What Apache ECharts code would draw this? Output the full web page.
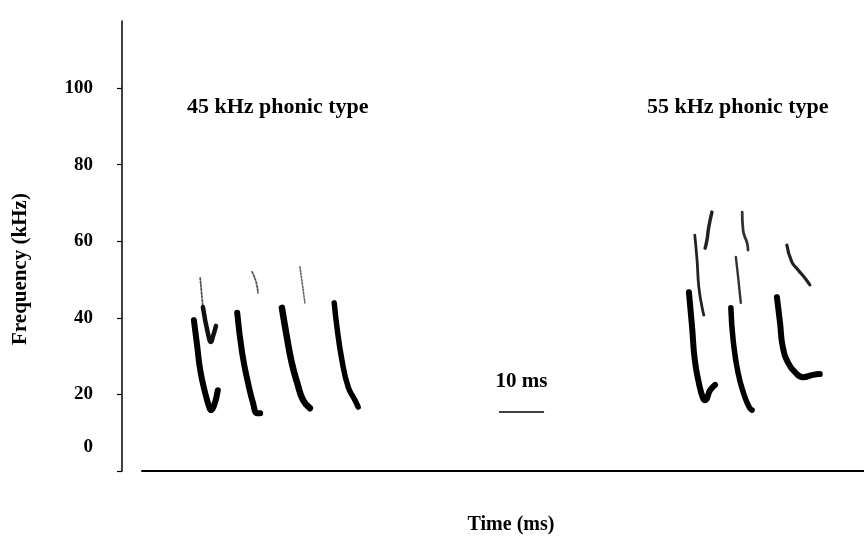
<!DOCTYPE html>
<html><head><meta charset="utf-8">
<script src="https://cdn.jsdelivr.net/npm/echarts@6/dist/echarts.min.js"></script>
<style>html,body{margin:0;padding:0;background:#fff}#c{width:864px;height:538px}</style>
</head><body><div id="c"></div>
<script>
// Tick labels (kHz)
const yTicks = [0, 20, 40, 60, 80, 100];
const groupTitles = ['45 kHz phonic type', '55 kHz phonic type'];
const scaleBarLabel = '10 ms';

// Pulse traces: [time ms, frequency kHz]
// 45 kHz phonic type
const p1Fund = [[11.5,39.4],[12.2,32.9],[12.9,26.4],[14.0,20.4],[14.9,16.7],[15.3,15.9],[16.0,17.2],[16.8,21.1]];
const p1HarmTop = [[12.9,50.4],[13.2,46.5],[13.5,42.8]];
const p1HarmLow = [[13.5,42.8],[14.6,36.0],[15.3,33.7],[15.7,35.0],[16.4,37.9]];
const p2Fund = [[21.1,41.3],[22.2,30.8],[23.5,23.0],[24.6,17.8],[25.5,15.1],[26.2,15.1]];
const p2Upper = [[24.4,52.0],[25.3,49.3],[25.7,46.5]];
const p3Fund = [[31.0,42.6],[32.1,35.0],[33.2,28.2],[34.4,23.0],[35.7,18.5],[37.2,16.4]];
const p3Upper = [[35.0,53.3],[35.5,49.1],[36.1,43.9]];
const p4Fund = [[42.6,43.9],[43.2,37.6],[44.3,29.0],[45.7,21.9],[47.2,18.5],[47.9,16.7]];
// 55 kHz phonic type
const pAFund = [[121.2,46.7],[121.9,37.6],[122.5,29.0],[123.4,23.0],[124.3,19.1],[124.8,18.5],[125.9,21.1],[127.0,22.5]];
const pAHarm = [[122.5,61.6],[123.0,55.1],[123.4,48.0],[124.1,42.8],[124.5,40.7]];
const pAThird = [[126.3,67.6],[125.6,63.7],[125.2,60.3],[124.8,58.2]];
const pBFund = [[130.5,42.6],[131.0,34.2],[132.1,25.6],[133.6,19.3],[134.7,16.4],[135.2,15.9]];
const pBHarm = [[131.6,55.9],[132.1,50.7],[132.7,43.9]];
const pBThird = [[133.0,67.6],[133.2,62.9],[134.1,59.5],[134.3,57.7]];
const pCFund = [[140.7,45.4],[141.4,38.6],[142.0,32.4],[143.2,28.2],[144.7,25.8],[146.5,24.5],[148.7,25.1],[150.2,25.3]];
const pCHarm = [[142.9,59.0],[144.0,54.6],[145.4,52.5],[146.9,50.4],[148.0,48.6]];
// 10 ms scale bar
const scaleBar = [[79.1,15.4],[89.1,15.4]];
const scaleBarLabelPos = [[84.1,23.3]];

const serif = '"Liberation Serif","Times New Roman",serif';
function trace(data, width, color, type) {
  return {type:'line', data, smooth:true, showSymbol:false, silent:true, xAxisIndex:0, yAxisIndex:0,
    lineStyle:{width, color, type: type||'solid', cap:'round', join:'round'}, z:3};
}
const series = [
  trace(p1Fund,6,'#000'), trace(p1HarmTop,1.8,'#555','dotted'), trace(p1HarmLow,4.5,'#111'),
  trace(p2Fund,6,'#000'), trace(p2Upper,1.8,'#555','dotted'),
  trace(p3Fund,6.5,'#000'), trace(p3Upper,1.6,'#666','dotted'),
  trace(p4Fund,5.5,'#000'),
  trace(pAFund,6,'#000'), trace(pAHarm,2.8,'#222'), trace(pAThird,3.5,'#222'),
  trace(pBFund,5.5,'#000'), trace(pBHarm,2.4,'#333'), trace(pBThird,2.8,'#333'),
  trace(pCFund,6,'#000'), trace(pCHarm,3.2,'#222'),
  {type:'line', data:scaleBar, showSymbol:false, silent:true, xAxisIndex:0, yAxisIndex:0, lineStyle:{width:1.5,color:'#000'}},
  {type:'scatter', data:scaleBarLabelPos, symbolSize:0, silent:true, xAxisIndex:0, yAxisIndex:0,
    itemStyle:{color:'#000', opacity:1}, z:5,
    label:{show:true, formatter:scaleBarLabel, position:'inside', color:'#000', textBorderWidth:0, opacity:1,
      fontFamily:serif, fontWeight:'bold', fontSize:21}}
];

const chart = echarts.init(document.getElementById('c'), null, {renderer:'canvas'});
chart.setOption({
  animation:false,
  backgroundColor:'#fff',
  title:[
    {text:groupTitles[0], left:182, top:91, textStyle:{fontFamily:serif, fontWeight:'bold', fontSize:22, color:'#000'}},
    {text:groupTitles[1], left:642, top:91, textStyle:{fontFamily:serif, fontWeight:'bold', fontSize:22, color:'#000'}}
  ],
  grid:[
    {left:142, right:0, top:21, bottom:67, containLabel:false, outerBoundsMode:'none'},
    {left:122, width:1, top:21, bottom:67, containLabel:false, outerBoundsMode:'none'}
  ],
  xAxis:[
    {gridIndex:0, type:'value', min:0, max:160, name:'Time (ms)', nameLocation:'middle', nameGap:44,
      nameTextStyle:{fontFamily:serif, fontWeight:'bold', fontSize:20, color:'#000', padding:[0,0,0,16]},
      axisLine:{show:true, lineStyle:{color:'#000', width:2}}, axisTick:{show:false},
      axisLabel:{show:false}, splitLine:{show:false}},
    {gridIndex:1, type:'value', min:0, max:1, show:false}
  ],
  yAxis:[
    {gridIndex:0, type:'value', min:0, max:117.5, show:false},
    {gridIndex:1, type:'value', min:0, max:117.5, name:'Frequency (kHz)', nameLocation:'middle', nameGap:91,
      nameTextStyle:{fontFamily:serif, fontWeight:'bold', fontSize:21, color:'#000', padding:[0,46,0,0]},
      axisLine:{show:true, lineStyle:{color:'#000', width:1.5}},
      axisTick:{show:true, inside:false, length:5, customValues:yTicks, lineStyle:{color:'#000', width:1.2}},
      axisLabel:{show:true, margin:29, customValues:yTicks, fontFamily:serif, fontWeight:'bold', fontSize:19, color:'#000',
        formatter:function(v){ return v===0 ? '{z|0}' : String(v); },
        rich:{z:{fontFamily:serif, fontWeight:'bold', fontSize:19, color:'#000', padding:[0,0,48,0]}}},
      splitLine:{show:false}}
  ],
  series
});
</script></body></html>
